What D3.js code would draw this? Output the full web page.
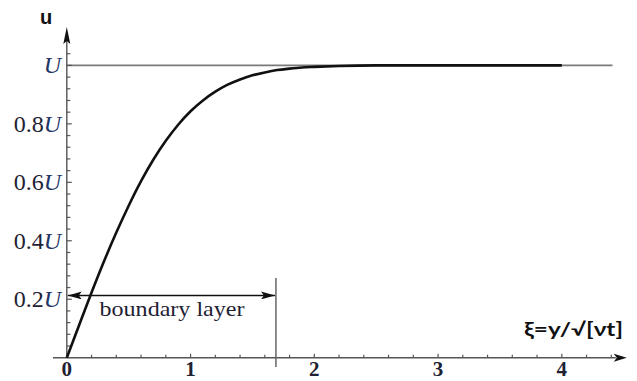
<!DOCTYPE html>
<html><head><meta charset="utf-8">
<script src="https://cdn.jsdelivr.net/npm/d3@7"></script>
<style>
html,body{margin:0;padding:0;background:#fff;}
svg{display:block;}
</style></head>
<body>
<svg id="chart" width="637" height="381"></svg>
<script>
// ---- data ----
const xi = [0,0.1,0.2,0.3,0.4,0.5,0.6,0.7,0.8,0.9,1.0,1.1,1.2,1.3,1.4,1.5,1.6,1.7,1.8,1.9,2.0,2.2,2.5,3.0,3.5,4.0];
const uOverU = [0,0.112,0.223,0.329,0.428,0.520,0.604,0.678,0.742,0.797,0.843,0.880,0.910,0.934,0.952,0.966,0.976,0.984,0.989,0.993,0.995,0.998,1.0,1.0,1.0,1.0];
const xTickValues = [0,1,2,3,4];
const xTickLabels = ["0","1","2","3","4"];
const yTickValues = [0.2,0.4,0.6,0.8,1.0];
const yTickNumbers = ["0.2","0.4","0.6","0.8",""];
const boundaryLayerXi = 1.69;
const boundaryArrowU = 0.213;
const asymptoteU = 1.0;

// ---- layout ----
const svg = d3.select("#chart");
const x = d3.scaleLinear().domain([0,4]).range([66.8,561.8]);
const y = d3.scaleLinear().domain([0,1]).range([357.7,65.4]);
const axisColor = "#555";
const labelColor = "#1e2233";

const defs = svg.append("defs");
defs.append("marker").attr("id","arrowEnd").attr("viewBox","0 0 14 8")
  .attr("refX",14).attr("refY",4).attr("markerWidth",14).attr("markerHeight",8)
  .attr("markerUnits","userSpaceOnUse").attr("orient","auto")
  .append("path").attr("d","M0,0 L14,4 L0,8 L3,4 Z").attr("fill","#111");
defs.append("marker").attr("id","arrowStart").attr("viewBox","0 0 14 8")
  .attr("refX",0).attr("refY",4).attr("markerWidth",14).attr("markerHeight",8)
  .attr("markerUnits","userSpaceOnUse").attr("orient","auto")
  .append("path").attr("d","M14,0 L0,4 L14,8 L11,4 Z").attr("fill","#111");

// asymptote line U
svg.append("line").attr("x1",x(0)).attr("x2",x(4.41)).attr("y1",y(asymptoteU)).attr("y2",y(asymptoteU))
  .attr("stroke","#7a7a7a").attr("stroke-width",1.6);

// x axis
svg.append("line").attr("x1",53).attr("x2",x(4.42)+2).attr("y1",y(0)).attr("y2",y(0))
  .attr("stroke",axisColor).attr("stroke-width",1.4);
svg.append("path").attr("d",`M${x(4.42)},${y(0)-4} L${x(4.42)+13},${y(0)} L${x(4.42)},${y(0)+4} L${x(4.42)+3},${y(0)} Z`).attr("fill","#111");
const xMinor = d3.range(0,4.41,0.2);
svg.selectAll(".xtick").data(xMinor).join("line")
  .attr("x1",d=>x(d)).attr("x2",d=>x(d))
  .attr("y1",y(0)).attr("y2",(d)=>y(0)-(Math.abs(d-Math.round(d))<1e-6?4:3))
  .attr("stroke",axisColor).attr("stroke-width",1.2);
svg.selectAll(".xlab").data(xTickValues).join("text")
  .attr("x",d=>x(d)).attr("y",376)
  .attr("text-anchor","middle").attr("font-family","Liberation Serif, serif")
  .attr("font-weight","bold").attr("font-size",21).attr("fill",labelColor)
  .text((d,i)=>xTickLabels[i]);

// y axis
svg.append("line").attr("x1",x(0)).attr("x2",x(0)).attr("y1",y(0)).attr("y2",40)
  .attr("stroke",axisColor).attr("stroke-width",1.4);
svg.append("path").attr("d",`M${x(0)-3.5},${44} L${x(0)},${27} L${x(0)+3.5},${44} L${x(0)},${41} Z`).attr("fill","#111");
const yMinor = d3.range(0.04,1.05,0.04);
svg.selectAll(".ytick").data(yMinor).join("line")
  .attr("x1",x(0)).attr("x2",d=>x(0)+(Math.abs(d*5-Math.round(d*5))<1e-6?5:3.5))
  .attr("y1",d=>y(d)).attr("y2",d=>y(d))
  .attr("stroke",axisColor).attr("stroke-width",1.2);
const ylab = svg.selectAll(".ylab").data(yTickValues).join("text")
  .attr("x",61).attr("y",d=>y(d)+8)
  .attr("text-anchor","end").attr("font-family","Liberation Serif, serif")
  .attr("font-size",24).attr("fill",labelColor);
ylab.append("tspan").text((d,i)=>yTickNumbers[i]);
ylab.append("tspan").attr("font-style","italic").attr("fill","#1f3566").text("U");

// axis titles
svg.append("text").attr("x",40).attr("y",24).attr("font-family","Liberation Sans, Arial, sans-serif")
  .attr("font-weight","bold").attr("font-size",20).attr("fill","#111").text("u");
svg.append("text").attr("x",524).attr("y",336).attr("font-family","Lato, Open Sans, sans-serif")
  .attr("font-weight","bold").attr("font-size",18).attr("fill","#111")
  .attr("textLength",99).attr("lengthAdjust","spacingAndGlyphs").text("ξ=y/√[νt]");

// curve
const line = d3.line().x((d,i)=>x(xi[i])).y((d,i)=>y(uOverU[i])).curve(d3.curveMonotoneX);
svg.append("path").datum(uOverU).attr("d",line).attr("fill","none")
  .attr("stroke","#111").attr("stroke-width",2.6).attr("stroke-linejoin","round");

// boundary layer annotation
svg.append("line").attr("x1",x(boundaryLayerXi)).attr("x2",x(boundaryLayerXi))
  .attr("y1",278).attr("y2",367).attr("stroke","#666").attr("stroke-width",1.5);
svg.append("line").attr("x1",x(0)+1).attr("x2",x(boundaryLayerXi)-1)
  .attr("y1",y(boundaryArrowU)).attr("y2",y(boundaryArrowU))
  .attr("stroke","#111").attr("stroke-width",1.4)
  .attr("marker-start","url(#arrowStart)").attr("marker-end","url(#arrowEnd)");
svg.append("text").attr("x",172).attr("y",316)
  .attr("text-anchor","middle").attr("font-family","Liberation Serif, serif")
  .attr("font-size",22).attr("fill",labelColor)
  .attr("textLength",145).attr("lengthAdjust","spacingAndGlyphs").text("boundary layer");
</script>
</body></html>
